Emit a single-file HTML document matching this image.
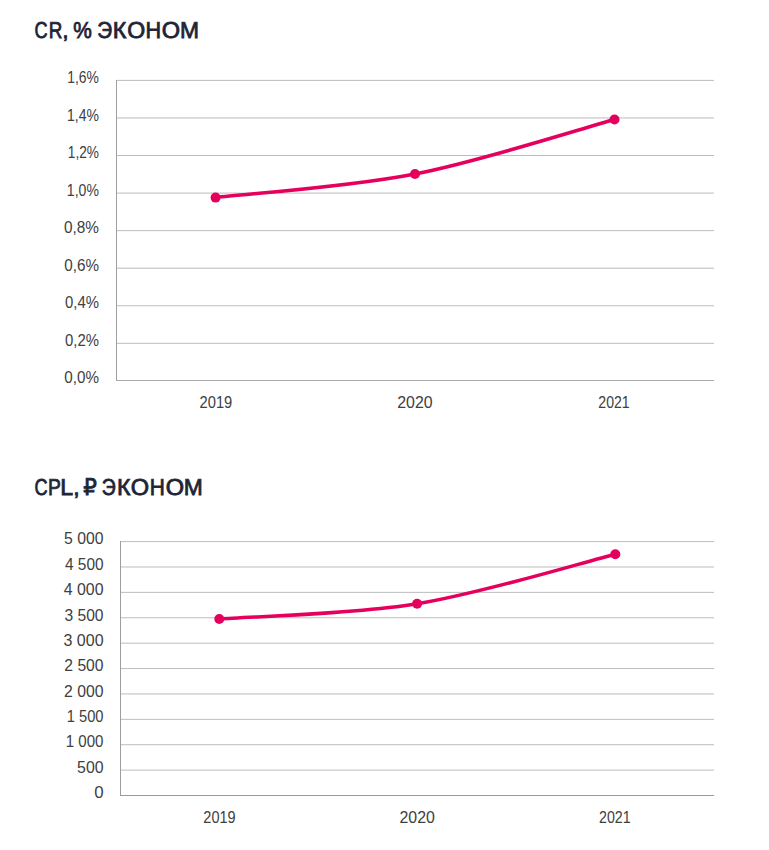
<!DOCTYPE html>
<html><head><meta charset="utf-8"><title>CR / CPL ЭКОНОМ</title>
<style>
html,body{margin:0;padding:0;background:#fff;}
body{width:769px;height:850px;overflow:hidden;}
svg{display:block;font-family:"Liberation Sans","DejaVu Sans",sans-serif;}
.t{text-rendering:geometricPrecision;font-weight:normal;fill:#1d2435;stroke:#1d2435;stroke-width:0.8px;}
</style></head><body>
<svg width="769" height="850" viewBox="0 0 769 850">
<text class="t" y="38.0" font-size="23.0"><tspan x="34.50" textLength="13.07" lengthAdjust="spacingAndGlyphs">C</tspan><tspan x="48.69" textLength="13.59" lengthAdjust="spacingAndGlyphs">R</tspan><tspan x="62.18" textLength="6.39" lengthAdjust="spacingAndGlyphs">,</tspan> <tspan x="73.27" textLength="18.55" lengthAdjust="spacingAndGlyphs">%</tspan> <tspan x="97.36" textLength="14.84" lengthAdjust="spacingAndGlyphs">Э</tspan><tspan x="112.84" textLength="13.56" lengthAdjust="spacingAndGlyphs">К</tspan><tspan x="127.15" textLength="17.96" lengthAdjust="spacingAndGlyphs">О</tspan><tspan x="145.47" textLength="15.60" lengthAdjust="spacingAndGlyphs">Н</tspan><tspan x="161.72" textLength="18.31" lengthAdjust="spacingAndGlyphs">О</tspan><tspan x="180.07" textLength="19.03" lengthAdjust="spacingAndGlyphs">М</tspan></text>
<line x1="116.5" y1="80.40" x2="714" y2="80.40" stroke="#bcbcbc" stroke-width="1"/>
<line x1="116.5" y1="117.96" x2="714" y2="117.96" stroke="#bcbcbc" stroke-width="1"/>
<line x1="116.5" y1="155.52" x2="714" y2="155.52" stroke="#bcbcbc" stroke-width="1"/>
<line x1="116.5" y1="193.08" x2="714" y2="193.08" stroke="#bcbcbc" stroke-width="1"/>
<line x1="116.5" y1="230.64" x2="714" y2="230.64" stroke="#bcbcbc" stroke-width="1"/>
<line x1="116.5" y1="268.20" x2="714" y2="268.20" stroke="#bcbcbc" stroke-width="1"/>
<line x1="116.5" y1="305.76" x2="714" y2="305.76" stroke="#bcbcbc" stroke-width="1"/>
<line x1="116.5" y1="343.32" x2="714" y2="343.32" stroke="#bcbcbc" stroke-width="1"/>
<line x1="116.0" y1="380.50" x2="714" y2="380.50" stroke="#ababab" stroke-width="1"/>
<line x1="116.5" y1="80.00" x2="116.5" y2="380.50" stroke="#9e9e9e" stroke-width="1"/>
<text transform="translate(67.19,83.00) scale(0.8244,1)" font-size="16.9" fill="#404040">1,6%</text>
<text transform="translate(67.08,121.00) scale(0.8271,1)" font-size="16.9" fill="#404040">1,4%</text>
<text transform="translate(67.81,158.00) scale(0.8080,1)" font-size="16.9" fill="#404040">1,2%</text>
<text transform="translate(66.87,196.00) scale(0.8326,1)" font-size="16.9" fill="#404040">1,0%</text>
<text transform="translate(63.99,233.00) scale(0.9089,1)" font-size="16.9" fill="#404040">0,8%</text>
<text transform="translate(64.29,271.00) scale(0.9008,1)" font-size="16.9" fill="#404040">0,6%</text>
<text transform="translate(65.00,308.00) scale(0.8820,1)" font-size="16.9" fill="#404040">0,4%</text>
<text transform="translate(65.00,346.00) scale(0.8820,1)" font-size="16.9" fill="#404040">0,2%</text>
<text transform="translate(64.29,383.00) scale(0.9008,1)" font-size="16.9" fill="#404040">0,0%</text>
<text transform="translate(199.56,408.00) scale(0.8700,1)" font-size="16.9" fill="#404040">2019</text>
<text transform="translate(397.21,408.00) scale(0.9407,1)" font-size="16.9" fill="#404040">2020</text>
<text transform="translate(598.30,408.00) scale(0.8339,1)" font-size="16.9" fill="#404040">2021</text>
<path d="M215.60,197.60 C248.83,193.67 348.52,187.02 415.00,174.00 C481.48,160.98 581.25,128.58 614.50,119.50" fill="none" stroke="#e6005e" stroke-width="3.5" stroke-linecap="round" stroke-linejoin="round"/>
<circle cx="215.60" cy="197.60" r="5.0" fill="#e6005e"/>
<circle cx="415.00" cy="174.00" r="5.0" fill="#e6005e"/>
<circle cx="614.50" cy="119.50" r="5.0" fill="#e6005e"/>
<text class="t" y="495.0" font-size="23.0"><tspan x="34.50" textLength="13.07" lengthAdjust="spacingAndGlyphs">C</tspan><tspan x="48.06" textLength="12.84" lengthAdjust="spacingAndGlyphs">P</tspan><tspan x="60.25" textLength="12.89" lengthAdjust="spacingAndGlyphs">L</tspan><tspan x="73.23" textLength="6.39" lengthAdjust="spacingAndGlyphs">,</tspan> <tspan x="83.36" textLength="13.62" lengthAdjust="spacingAndGlyphs">₽</tspan> <tspan x="101.64" textLength="13.91" lengthAdjust="spacingAndGlyphs">Э</tspan><tspan x="116.96" textLength="13.44" lengthAdjust="spacingAndGlyphs">К</tspan><tspan x="130.82" textLength="18.31" lengthAdjust="spacingAndGlyphs">О</tspan><tspan x="149.63" textLength="15.09" lengthAdjust="spacingAndGlyphs">Н</tspan><tspan x="165.82" textLength="18.31" lengthAdjust="spacingAndGlyphs">О</tspan><tspan x="183.77" textLength="19.03" lengthAdjust="spacingAndGlyphs">М</tspan></text>
<line x1="120.5" y1="541.60" x2="714" y2="541.60" stroke="#bcbcbc" stroke-width="1"/>
<line x1="120.5" y1="566.99" x2="714" y2="566.99" stroke="#bcbcbc" stroke-width="1"/>
<line x1="120.5" y1="592.38" x2="714" y2="592.38" stroke="#bcbcbc" stroke-width="1"/>
<line x1="120.5" y1="617.77" x2="714" y2="617.77" stroke="#bcbcbc" stroke-width="1"/>
<line x1="120.5" y1="643.16" x2="714" y2="643.16" stroke="#bcbcbc" stroke-width="1"/>
<line x1="120.5" y1="668.55" x2="714" y2="668.55" stroke="#bcbcbc" stroke-width="1"/>
<line x1="120.5" y1="693.94" x2="714" y2="693.94" stroke="#bcbcbc" stroke-width="1"/>
<line x1="120.5" y1="719.33" x2="714" y2="719.33" stroke="#bcbcbc" stroke-width="1"/>
<line x1="120.5" y1="744.72" x2="714" y2="744.72" stroke="#bcbcbc" stroke-width="1"/>
<line x1="120.5" y1="770.11" x2="714" y2="770.11" stroke="#bcbcbc" stroke-width="1"/>
<line x1="120.0" y1="795.50" x2="714" y2="795.50" stroke="#999999" stroke-width="1"/>
<line x1="120.5" y1="541.00" x2="120.5" y2="795.50" stroke="#9e9e9e" stroke-width="1"/>
<text transform="translate(64.12,544.00) scale(0.9327,1)" font-size="16.9" fill="#404040">5 000</text>
<text transform="translate(64.99,570.00) scale(0.9118,1)" font-size="16.9" fill="#404040">4 500</text>
<text transform="translate(63.78,595.00) scale(0.9408,1)" font-size="16.9" fill="#404040">4 000</text>
<text transform="translate(64.48,621.00) scale(0.9242,1)" font-size="16.9" fill="#404040">3 500</text>
<text transform="translate(63.46,646.00) scale(0.9486,1)" font-size="16.9" fill="#404040">3 000</text>
<text transform="translate(64.32,671.00) scale(0.9280,1)" font-size="16.9" fill="#404040">2 500</text>
<text transform="translate(64.11,697.00) scale(0.9329,1)" font-size="16.9" fill="#404040">2 000</text>
<text transform="translate(66.72,722.00) scale(0.8703,1)" font-size="16.9" fill="#404040">1 500</text>
<text transform="translate(65.79,747.00) scale(0.8926,1)" font-size="16.9" fill="#404040">1 000</text>
<text transform="translate(77.06,773.00) scale(0.9401,1)" font-size="16.9" fill="#404040">500</text>
<text transform="translate(94.23,798.00) scale(0.9985,1)" font-size="16.9" fill="#404040">0</text>
<text transform="translate(203.37,823.00) scale(0.8589,1)" font-size="16.9" fill="#404040">2019</text>
<text transform="translate(399.51,823.00) scale(0.9407,1)" font-size="16.9" fill="#404040">2020</text>
<text transform="translate(598.99,823.00) scale(0.8422,1)" font-size="16.9" fill="#404040">2021</text>
<path d="M219.30,619.00 C252.27,616.47 351.10,614.60 417.10,603.80 C483.10,593.00 582.27,562.47 615.30,554.20" fill="none" stroke="#e6005e" stroke-width="3.5" stroke-linecap="round" stroke-linejoin="round"/>
<circle cx="219.30" cy="619.00" r="5.0" fill="#e6005e"/>
<circle cx="417.10" cy="603.80" r="5.0" fill="#e6005e"/>
<circle cx="615.30" cy="554.20" r="5.0" fill="#e6005e"/>
</svg>
</body></html>
